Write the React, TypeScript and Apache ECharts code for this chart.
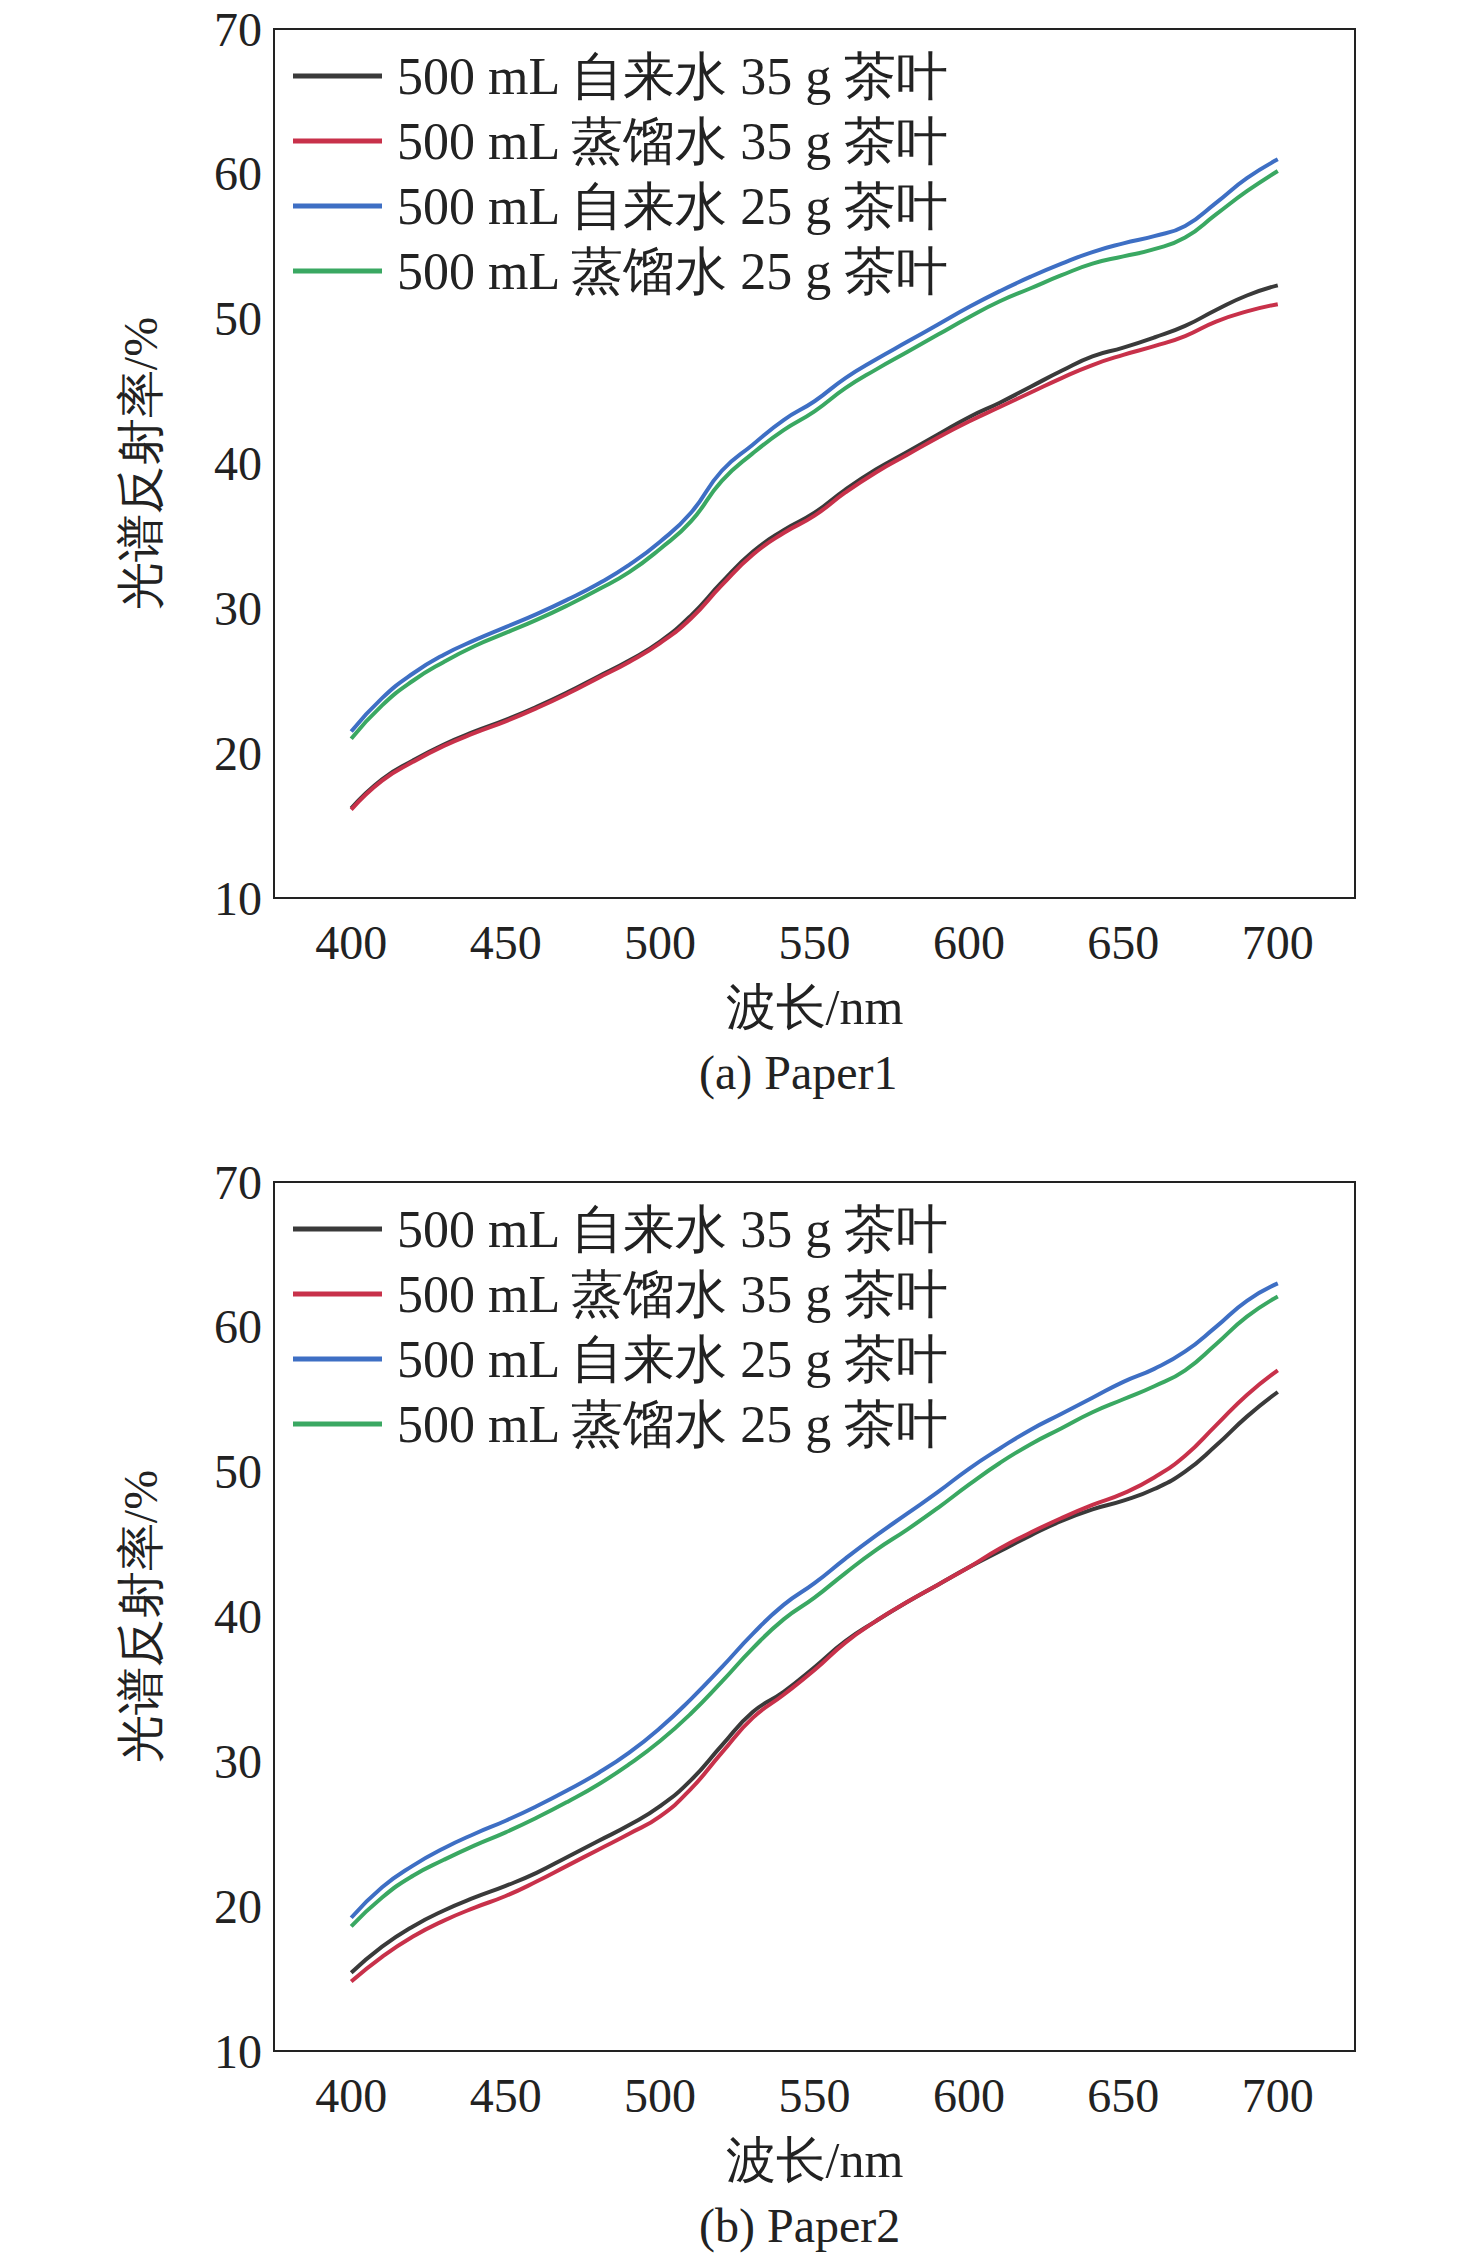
import React, { useEffect, useRef } from "react";
import * as echarts from "echarts";

const wavelengths = [400,410,420,430,440,450,460,470,480,490,500,510,520,530,540,550,560,570,580,590,600,610,620,630,640,650,660,670,680,690,700];
const seriesNames = ["500 mL 自来水 35 g 茶叶","500 mL 蒸馏水 35 g 茶叶","500 mL 自来水 25 g 茶叶","500 mL 蒸馏水 25 g 茶叶"];
const colors = ["#3a3a3a","#c8314a","#3e6fc4","#3aa862"];
const xTicks = [400,450,500,550,600,650,700];

const p1Tap35 = [16.2,18.2,19.5,20.6,21.5,22.3,23.2,24.2,25.3,26.4,27.7,29.5,31.8,33.9,35.4,36.6,38.2,39.6,40.8,42,43.2,44.2,45.3,46.4,47.4,48,48.7,49.5,50.6,51.6,52.3];
const p1Dist35 = [16.1,18.1,19.4,20.5,21.4,22.2,23.1,24.1,25.2,26.3,27.6,29.3,31.6,33.7,35.2,36.4,38,39.4,40.6,41.8,42.9,43.9,44.9,45.9,46.8,47.5,48.1,48.8,49.8,50.5,51];
const p1Tap25 = [21.5,23.8,25.5,26.8,27.8,28.7,29.6,30.6,31.7,33,34.6,36.6,39.5,41.3,43,44.3,45.9,47.2,48.4,49.6,50.8,51.9,52.9,53.8,54.6,55.2,55.7,56.4,58,59.7,61];
const p1Dist25 = [21,23.3,25,26.3,27.4,28.3,29.2,30.2,31.3,32.5,34.1,36,38.8,40.7,42.3,43.6,45.2,46.5,47.7,48.9,50.1,51.2,52.1,53,53.8,54.3,54.8,55.6,57.2,58.8,60.2];

const p2Tap35 = [15.4,17.2,18.6,19.7,20.6,21.4,22.3,23.4,24.5,25.6,26.9,28.7,31.1,33.4,34.8,36.5,38.3,39.7,41,42.2,43.4,44.5,45.6,46.6,47.4,48,48.8,50,51.8,53.8,55.5];
const p2Dist35 = [14.8,16.5,17.9,19,19.9,20.7,21.7,22.8,23.9,25,26.2,28.1,30.6,33,34.6,36.3,38.2,39.7,41,42.2,43.4,44.7,45.8,46.8,47.7,48.5,49.6,51.1,53.2,55.3,57];
const p2Tap25 = [19.2,21.3,22.8,24,25,25.9,26.9,28,29.2,30.6,32.3,34.3,36.5,38.8,40.8,42.3,44,45.6,47.1,48.6,50.2,51.6,52.9,54,55.1,56.2,57.1,58.3,60,61.8,63];
const p2Dist25 = [18.6,20.6,22.1,23.2,24.2,25.1,26.1,27.2,28.4,29.8,31.4,33.3,35.5,37.8,39.8,41.3,43,44.6,46,47.5,49.1,50.6,51.9,53,54.1,55,55.9,57,58.8,60.7,62.1];

const panels = [
  { sub: "(a) Paper1", data: [p1Tap35, p1Dist35, p1Tap25, p1Dist25] },
  { sub: "(b) Paper2", data: [p2Tap35, p2Dist35, p2Tap25, p2Dist25] },
];

const FONT = "Liberation Serif";

export default function App() {
  const ref = useRef<HTMLDivElement>(null);
  useEffect(() => {
    document.body.style.margin = "0";
    const chart = echarts.init(ref.current!, null, { renderer: "svg" });
    const gridTops = [29, 1182];
    const gridH = 869;
    const option: any = {
      animation: false,
      backgroundColor: "#fff",
      textStyle: { fontFamily: FONT },
      grid: gridTops.map((t) => ({ left: 274, width: 1081, top: t, height: gridH, show: true, borderColor: "#222", borderWidth: 2, backgroundColor: "transparent" })),
      xAxis: gridTops.map((_, i) => ({
        gridIndex: i, type: "value", min: 375, max: 725,
        axisLine: { show: false }, axisTick: { show: false }, splitLine: { show: false },
        axisLabel: { customValues: xTicks, fontSize: 48, color: "#222", margin: 20, fontFamily: FONT },
        name: "波长/nm", nameLocation: "middle", nameGap: 84,
        nameTextStyle: { fontSize: 50, color: "#222", fontFamily: FONT },
      })),
      yAxis: gridTops.map((_, i) => ({
        gridIndex: i, type: "value", min: 10, max: 70, interval: 10,
        axisLine: { show: false }, axisTick: { show: false }, splitLine: { show: false },
        axisLabel: { fontSize: 48, color: "#222", margin: 12, fontFamily: FONT },
        name: "光谱反射率/%", nameLocation: "middle", nameGap: 110,
        nameTextStyle: { fontSize: 48, color: "#222", fontFamily: FONT },
      })),
      legend: gridTops.map((t) => ({
        orient: "vertical", left: 288, top: t + 16, data: seriesNames,
        icon: "rect", itemWidth: 89, itemHeight: 5, itemGap: 13,
        textStyle: { fontSize: 52, color: "#222", fontFamily: FONT, padding: [0, 0, 0, 10] },
      })),
      graphic: panels.map((p, i) => ({
        type: "text", left: 814 - 115, top: gridTops[i] + gridH + 150,
        style: { text: p.sub, fontSize: 48, fill: "#222", fontFamily: FONT },
      })),
      series: panels.flatMap((p, gi) =>
        p.data.map((vals, si) => ({
          name: seriesNames[si], type: "line", xAxisIndex: gi, yAxisIndex: gi,
          data: wavelengths.map((w, k) => [w, vals[k]]),
          smooth: true, showSymbol: false, symbol: "none",
          lineStyle: { color: colors[si], width: 4 }, itemStyle: { color: colors[si] },
        }))
      ),
    };
    chart.setOption(option);
    return () => chart.dispose();
  }, []);
  return <div ref={ref} style={{ width: 1476, height: 2255 }} />;
}
